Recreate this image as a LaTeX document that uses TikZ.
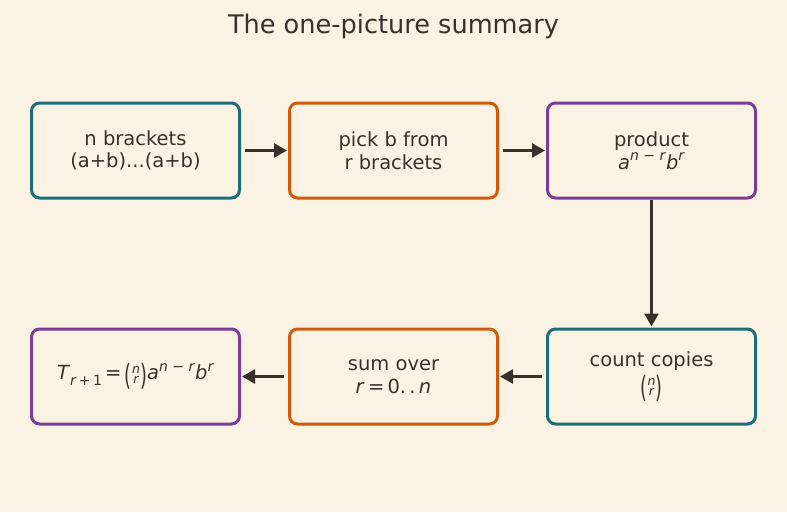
\documentclass[tikz,border=0pt]{standalone}
\usepackage{fontspec}
\setmainfont{DejaVu Sans}
\usetikzlibrary{arrows.meta}
\definecolor{bg}{HTML}{FAF3E4}
\definecolor{ink}{HTML}{3A302A}
\definecolor{teal}{HTML}{1D6C78}
\definecolor{orng}{HTML}{D05A0C}
\definecolor{purp}{HTML}{7B3C98}
\newcommand\supx[1]{\raisebox{0.42em}{\fontsize{14}{14}\selectfont #1}}
\newcommand\subx[1]{\raisebox{-0.3em}{\fontsize{14}{14}\selectfont #1}}
\newcommand\bparen[1]{\raisebox{-0.3em}{\scalebox{0.9}[1.5]{\upshape #1}}}
\newcommand\binomnr{\bparen{(}\kern0.02em{\renewcommand\arraystretch{0.8}\fontsize{12.5}{12.5}\selectfont\itshape\begin{tabular}{@{}c@{}}n\\ r\end{tabular}}\kern0.02em\bparen{)}}
\begin{document}
\begin{tikzpicture}[x=1pt,y=-1pt,
  card/.style={draw,line width=3pt,rounded corners=8pt,fill=bg,minimum width=208pt,minimum height=95pt,text=ink,align=center,font=\fontsize{19.5}{22.5}\selectfont},
  flow/.style={draw=ink,line width=2.6pt,-{Triangle[length=13pt,width=14pt]}}]
\fill[bg] (0,0) rectangle (787,512);
\useasboundingbox (0,0) rectangle (787,512);
\node[text=ink,font=\fontsize{25.6}{29}\selectfont] (title) at (393.5,26) {The one-picture summary};
\node[card,draw=teal] (b1) at (135.5,150.5) {n brackets\\(a+b)...(a+b)};
\node[card,draw=orng] (b2) at (393.5,150.5) {pick b from\\r brackets};
\node[card,draw=purp] (b3) at (651.5,150.5) {product\\\textit{a}\supx{\textit{n} − \textit{r}}\textit{b}\supx{\textit{r}}};
\node[card,draw=teal] (b6) at (651.5,376.5) {count copies\\[3pt]\binomnr};
\node[card,draw=orng] (b5) at (393.5,376.5) {sum over\\\textit{r}\,=\,0.\,.\,\textit{n}};
\node[card,draw=purp] (b4) at (135.5,376.5) {\textit{T}\subx{\textit{r}\,+\,1}\,=\,\binomnr\textit{a}\supx{\textit{n} − \textit{r}}\textit{b}\supx{\textit{r}}};
\draw[flow,shorten <=4pt,shorten >=1pt] (b1) -- (b2);
\draw[flow,shorten <=4pt,shorten >=1pt] (b2) -- (b3);
\draw[flow,shorten >=1pt] (b3) -- (b6);
\draw[flow,shorten <=4pt,shorten >=1pt] (b6) -- (b5);
\draw[flow,shorten <=4pt,shorten >=1pt] (b5) -- (b4);
\end{tikzpicture}
\end{document}
